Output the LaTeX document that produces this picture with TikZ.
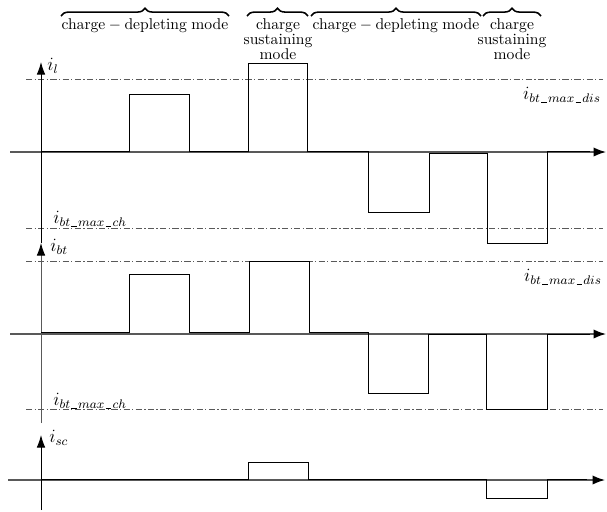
\documentclass[tikz,border=0pt]{standalone}
\usetikzlibrary{arrows.meta,decorations.pathreplacing}
\newcommand\lowbar{\kern0.8pt\rule[-0.4pt]{3.6pt}{0.35pt}\kern0.8pt}
\begin{document}
\begin{tikzpicture}[x=0.64pt,y=-0.64pt,
  yaxis/.style={draw=black, line width=0.6pt, -{Latex[length=8pt,width=5.5pt]}},
  xaxis/.style={draw=black!65, line width=0.9pt, -{Latex[length=8pt,width=6pt,color=black]}},
  limit/.style={draw=black!65, line width=0.6pt, dash pattern=on 4pt off 1.5pt on 0.8pt off 1.5pt},
  wave/.style={draw=black, line width=0.5pt},
  mbrace/.style={draw=black, decorate, decoration={brace, amplitude=5pt}, line width=1pt},
  modetext/.style={font=\fontsize{10}{8.5}\selectfont, align=center, anchor=north, inner sep=0pt},
  lbl/.style={inner sep=0pt, font=\fontsize{12}{14}\selectfont}]
\useasboundingbox (0,0) rectangle (607,511);

% ---------- mode braces ----------
\draw[mbrace] (61,16) coordinate (b1a) -- (229,16) coordinate (b1b);
\draw[mbrace] (247,16) coordinate (b2a) -- (308,16) coordinate (b2b);
\draw[mbrace] (311,16) coordinate (b3a) -- (481,16) coordinate (b3b);
\draw[mbrace] (483,16) coordinate (b4a) -- (541,16) coordinate (b4b);
\node[modetext] (m1) at (145,18) {$\mathrm{charge}-\mathrm{depleting\;mode}$};
\node[modetext] (m2) at (278,18) {charge\\sustaining\\mode};
\node[modetext] (m3) at (396,18) {$\mathrm{charge}-\mathrm{depleting\;mode}$};
\node[modetext] (m4) at (512,18) {charge\\sustaining\\mode};

% ---------- panel 1 : i_l ----------
\coordinate (x1a) at (10,152);  \coordinate (x1b) at (606,152);
\coordinate (y1a) at (41,243);  \coordinate (y1b) at (41,62);
\draw[limit] (26,79) coordinate (d1a) -- (603,79) coordinate (d1b);
\draw[limit] (26,228) coordinate (c1a) -- (603,228) coordinate (c1b);
\draw[xaxis] (x1a) -- (x1b);
\draw[yaxis] (y1a) -- (y1b);
\draw[wave] (41,151) -- (129,151) -- (129,94) -- (189,94) -- (189,151) -- (248,151)
  -- (248,63) -- (307,63) -- (307,151) -- (368,151) -- (368,212) -- (429,212)
  -- (429,153) -- (487,153) -- (487,243) -- (547,243) -- (547,151) -- (590,151);
\node[lbl, anchor=west] (il) at (47,66) {$i_l$};
\node[lbl, anchor=east] (dis1) at (601,95) {$i_{bt\lowbar max\lowbar dis}$};
\node[lbl, anchor=west] (ch1) at (53,219) {$i_{bt\lowbar max\lowbar ch}$};

% ---------- panel 2 : i_bt ----------
\coordinate (x2a) at (10,334);  \coordinate (x2b) at (606,334);
\coordinate (y2a) at (41,423);  \coordinate (y2b) at (41,243);
\draw[limit] (26,261) coordinate (d2a) -- (603,261) coordinate (d2b);
\draw[limit] (26,409) coordinate (c2a) -- (603,409) coordinate (c2b);
\draw[xaxis] (x2a) -- (x2b);
\draw[yaxis, draw=black!65, -{Latex[length=8pt,width=5.5pt,color=black]}] (y2a) -- (y2b);
\draw[wave] (41,332) -- (129,332) -- (129,274) -- (189,274) -- (189,332) -- (249,332)
  -- (249,261) -- (309,261) -- (309,332) -- (368,332) -- (368,393) -- (428,393)
  -- (428,334) -- (486,334) -- (486,409) -- (547,409) -- (547,334) -- (590,334);
\node[lbl, anchor=west] (ibt) at (50,247) {$i_{bt}$};
\node[lbl, anchor=east] (dis2) at (602,277) {$i_{bt\lowbar max\lowbar dis}$};
\node[lbl, anchor=west] (ch2) at (53,401) {$i_{bt\lowbar max\lowbar ch}$};

% ---------- panel 3 : i_sc ----------
\coordinate (x3a) at (8,480);  \coordinate (x3b) at (605,480);
\coordinate (y3a) at (41,510);  \coordinate (y3b) at (41,435);
\draw[xaxis] (x3a) -- (x3b);
\draw[yaxis] (y3a) -- (y3b);
\draw[wave] (41,479) -- (248,479) -- (248,462) -- (308,462) -- (308,479) -- (486,479)
  -- (486,498) -- (547,498) -- (547,479) -- (587,479);
\node[lbl, anchor=west] (isc) at (49,438) {$i_{sc}$};
\end{tikzpicture}
\end{document}
